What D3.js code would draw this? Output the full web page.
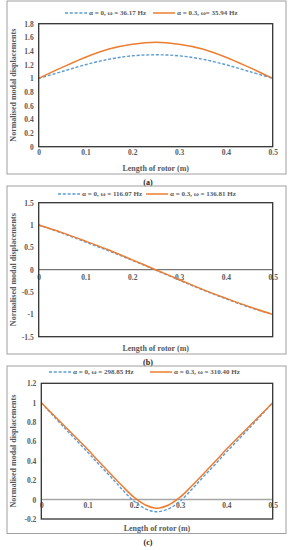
<!DOCTYPE html>
<html>
<head>
<meta charset="utf-8">
<script src="https://cdn.jsdelivr.net/npm/d3@7"></script>
<style>
  body { margin: 0; background: #fff; }
  text { font-family: "Liberation Serif", "Times New Roman", serif; font-weight: bold; }
</style>
</head>
<body>
<div id="chart"></div>
<script>
const width = 294;
const height = 550;

// data
const xTicks = [0, 0.1, 0.2, 0.3, 0.4, 0.5];

const aX = [0, 0.05, 0.1, 0.15, 0.2, 0.25, 0.3, 0.35, 0.4, 0.45, 0.5];
const aBlue = [1, 1.1, 1.2, 1.28, 1.33, 1.345, 1.33, 1.28, 1.2, 1.1, 1];
const aOrange = [1, 1.16, 1.31, 1.43, 1.5, 1.53, 1.5, 1.43, 1.31, 1.16, 1];
const aYTicks = [0, 0.2, 0.4, 0.6, 0.8, 1, 1.2, 1.4, 1.6, 1.8];
const aLegend = ["α = 0, ω = 36.17 Hz", "α = 0.3, ω= 35.94 Hz"];

const bX = [0, 0.05, 0.1, 0.15, 0.2, 0.25, 0.3, 0.35, 0.4, 0.45, 0.5];
const bBlue = [1, 0.82, 0.62, 0.42, 0.21, -0.01, -0.23, -0.45, -0.65, -0.84, -1];
const bOrange = [1, 0.83, 0.64, 0.44, 0.22, 0, -0.22, -0.44, -0.64, -0.83, -1];
const bYTicks = [-1.5, -1, -0.5, 0, 0.5, 1, 1.5];
const bLegend = ["α = 0, ω = 116.07 Hz", "α = 0.3, ω = 136.81 Hz"];

const cX = [0, 0.05, 0.1, 0.125, 0.15, 0.175, 0.2, 0.225, 0.25, 0.275, 0.3, 0.325, 0.35, 0.375, 0.4, 0.45, 0.5];
const cBlue = [1, 0.74, 0.49, 0.36, 0.235, 0.105, -0.015, -0.095, -0.125, -0.095, -0.015, 0.105, 0.235, 0.36, 0.49, 0.74, 1];
const cOrange = [1, 0.76, 0.52, 0.39, 0.265, 0.14, 0.025, -0.055, -0.088, -0.055, 0.025, 0.14, 0.265, 0.39, 0.52, 0.76, 1];
const cYTicks = [-0.2, 0, 0.2, 0.4, 0.6, 0.8, 1, 1.2];
const cLegend = ["α = 0, ω = 298.85 Hz", "α = 0.3, ω = 310.40 Hz"];

const blue = "#5b9bd5";
const orange = "#ed7d31";
const grey = "#595959";

const svg = d3.select("#chart")
  .append("svg")
  .attr("width", width)
  .attr("height", height);

svg.append("rect").attr("width", width).attr("height", height).attr("fill", "#fff");

const panels = [
  { x: aX, blue: aBlue, orange: aOrange, yTicks: aYTicks, legend: aLegend, label: "(a)",
    box: [7, 1, 286, 174], plot: [38.7, 23.7, 272.7, 146.7], legY: 13,
    leg: [65, 153], tickY: 155, zero: false },
  { x: bX, blue: bBlue, orange: bOrange, yTicks: bYTicks, legend: bLegend, label: "(b)",
    box: [7, 186, 286, 354], plot: [38.7, 202.7, 272.7, 336.7], legY: 194,
    leg: [58, 146], tickY: 279.5, zero: true },
  { x: cX, blue: cBlue, orange: cOrange, yTicks: cYTicks, legend: cLegend, label: "(c)",
    box: [7, 366, 286, 533.5], plot: [41.3, 383.3, 272.7, 519], legY: 372,
    leg: [49, 150], tickY: 507.5, zero: true }
];

const fmt = v => d3.format("")(v).replace("−", "-");

panels.forEach(p => {
  const g = svg.append("g");
  const [x0, y0, x1, y1] = p.plot;
  const yDom = d3.extent(p.yTicks);

  const x = d3.scaleLinear().domain([0, 0.5]).range([x0, x1]);
  const y = d3.scaleLinear().domain(yDom).range([y1, y0]);

  // outer frame
  g.append("rect")
    .attr("x", p.box[0]).attr("y", p.box[1])
    .attr("width", p.box[2] - p.box[0]).attr("height", p.box[3] - p.box[1])
    .attr("fill", "none").attr("stroke", "#a0a0a0").attr("stroke-width", 1);

  // zero line
  if (p.zero) {
    g.append("line")
      .attr("x1", x0).attr("x2", x1)
      .attr("y1", y(0)).attr("y2", y(0))
      .attr("stroke", p.label === "(c)" ? "#a6a6a6" : "#555")
      .attr("stroke-width", p.label === "(c)" ? 1.5 : 1);
  }

  // y axis labels
  const yAxis = d3.axisLeft(y).tickValues(p.yTicks).tickFormat(fmt).tickSize(0).tickPadding(5);
  const ya = g.append("g").attr("transform", `translate(${x0},0)`).call(yAxis);
  ya.select(".domain").remove();
  ya.selectAll("text").attr("fill", grey).attr("font-size", 7.5)
    .attr("font-family", "Liberation Serif").attr("font-weight", "bold");

  // x axis labels
  const xAxis = d3.axisBottom(x).tickValues(xTicks).tickFormat(fmt).tickSize(0).tickPadding(0);
  const xa = g.append("g").attr("transform", `translate(0,${p.tickY - 5})`).call(xAxis);
  xa.select(".domain").remove();
  xa.selectAll("text").attr("fill", grey).attr("font-size", 7.5)
    .attr("font-family", "Liberation Serif").attr("font-weight", "bold");

  // curves
  const line = d3.line()
    .x((d, i) => x(p.x[i]))
    .y(d => y(d))
    .curve(d3.curveCatmullRom);

  g.append("path").datum(p.blue)
    .attr("d", line).attr("fill", "none")
    .attr("stroke", blue).attr("stroke-width", 1.4).attr("stroke-dasharray", "3,1.8");

  g.append("path").datum(p.orange)
    .attr("d", line).attr("fill", "none")
    .attr("stroke", orange).attr("stroke-width", 1.5);

  // plot frame
  g.append("rect")
    .attr("x", x0).attr("y", y0)
    .attr("width", x1 - x0).attr("height", y1 - y0)
    .attr("fill", "none").attr("stroke", "#333").attr("stroke-width", 1.3);

  // legend
  const cols = [blue, orange];
  p.legend.forEach((t, i) => {
    const lx = p.leg[i];
    g.append("line")
      .attr("x1", lx).attr("x2", lx + 22)
      .attr("y1", p.legY).attr("y2", p.legY)
      .attr("stroke", cols[i]).attr("stroke-width", 1.5)
      .attr("stroke-dasharray", i === 0 ? "3,1.8" : null);
    g.append("text")
      .attr("x", lx + 24).attr("y", p.legY + 2.3)
      .attr("fill", grey).attr("font-size", 7)
      .text(t);
  });

  // axis titles
  g.append("text")
    .attr("x", (x0 + x1) / 2).attr("y", p.box[3] - 3)
    .attr("text-anchor", "middle").attr("fill", grey).attr("font-size", 8)
    .text("Length of rotor (m)");

  g.append("text")
    .attr("transform", `translate(15.5,${(y0 + y1) / 2}) rotate(-90)`)
    .attr("text-anchor", "middle").attr("fill", grey).attr("font-size", 8)
    .text("Normalised modal displacements");

  // caption
  g.append("text")
    .attr("x", 148).attr("y", p.box[3] + 11)
    .attr("text-anchor", "middle").attr("fill", "#222").attr("font-size", 8)
    .text(p.label);
});
</script>
</body>
</html>
